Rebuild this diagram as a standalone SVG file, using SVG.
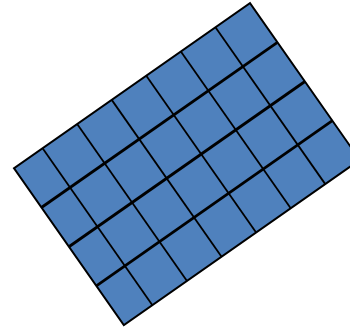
<svg xmlns="http://www.w3.org/2000/svg" width="350" height="327" viewBox="0 0 350 327">
<style>
.panel{fill:#4f81bd;stroke:#000;stroke-width:2;stroke-linejoin:miter}
.col{stroke:#000;stroke-width:1.8}
.row{stroke:#000;stroke-width:2.8}
</style>
<g id="grid" transform="translate(14,168.3) rotate(-35.0)">
<rect class="panel" x="0" y="0" width="288.1" height="191.5"/>
<g id="connectors">
<line class="col" x1="34.9" y1="0" x2="34.9" y2="191.5"/>
<line class="col" x1="77.1" y1="0" x2="77.1" y2="191.5"/>
<line class="col" x1="119.3" y1="0" x2="119.3" y2="191.5"/>
<line class="col" x1="161.5" y1="0" x2="161.5" y2="191.5"/>
<line class="col" x1="203.7" y1="0" x2="203.7" y2="191.5"/>
<line class="col" x1="245.9" y1="0" x2="245.9" y2="191.5"/>
<line class="row" x1="0" y1="47.88" x2="288.1" y2="47.88"/>
<line class="row" x1="0" y1="95.75" x2="288.1" y2="95.75"/>
<line class="row" x1="0" y1="143.63" x2="288.1" y2="143.63"/>
</g>
</g>
</svg>
